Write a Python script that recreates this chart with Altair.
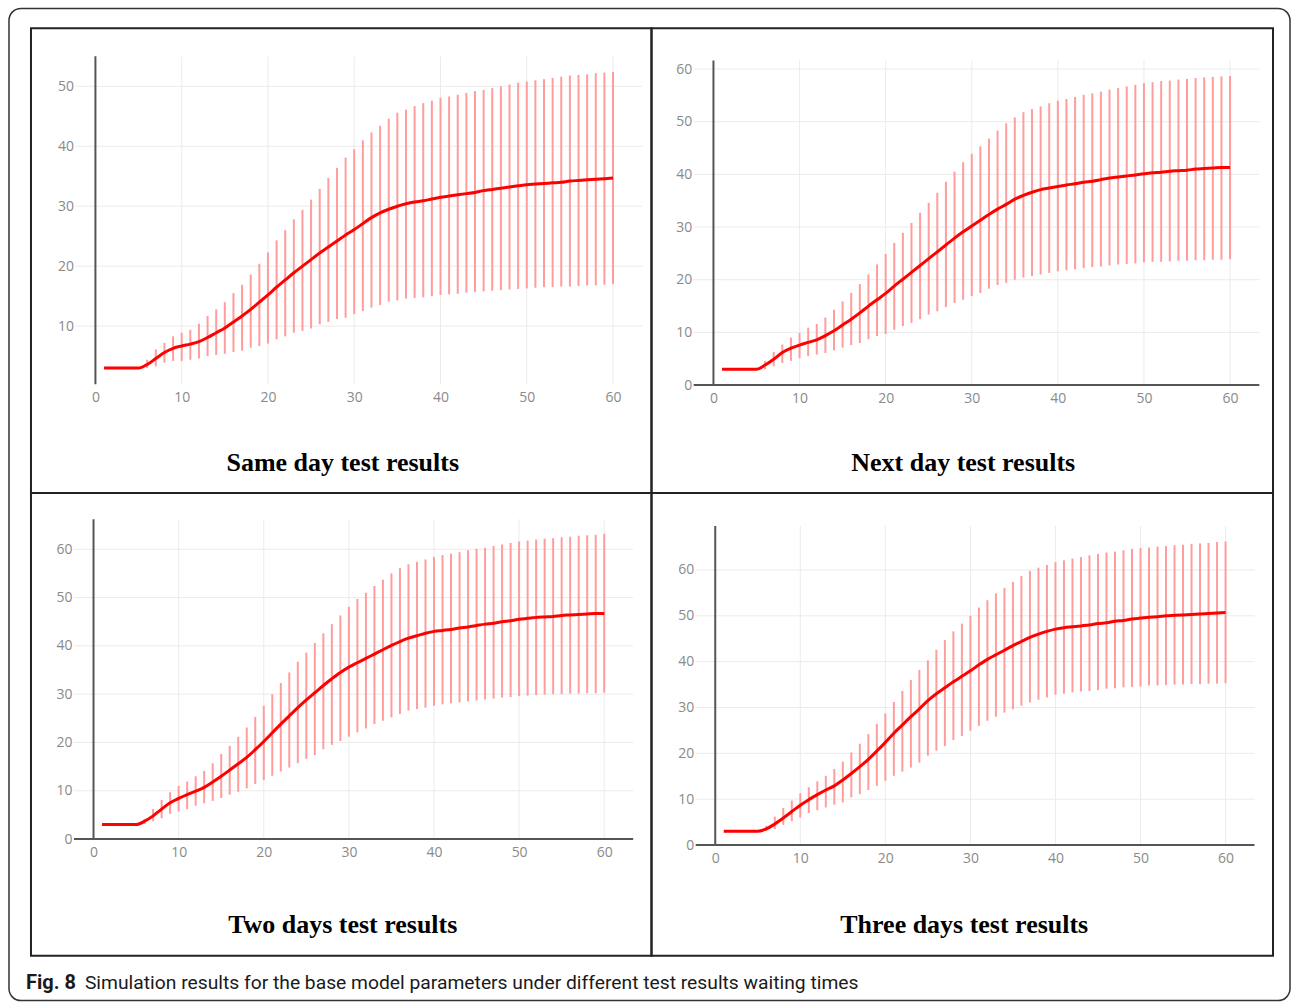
import altair as alt
import pandas as pd

# ---------------- data ----------------
DAYS = list(range(1, 61))
BAR_DAYS = list(range(6, 61))
X_TICKS = [0, 10, 20, 30, 40, 50, 60]
Y_TICKS_SAME = [10, 20, 30, 40, 50]
Y_TICKS_OTHER = [0, 10, 20, 30, 40, 50, 60]

PANEL_TITLES = ["Same day test results", "Next day test results",
                "Two days test results", "Three days test results"]
CAPTION_BOLD = "Fig. 8"
CAPTION_TEXT = "Simulation results for the base model parameters under different test results waiting times"

SAME_MEAN = [3.0, 3.0, 3.0, 3.0, 3.0, 3.6, 4.6, 5.6, 6.3, 6.7, 7.0, 7.4, 8.1, 8.9, 9.7,
             10.7, 11.7, 12.8, 14.0, 15.2, 16.5, 17.7, 18.9, 20.0, 21.1, 22.2, 23.2, 24.2, 25.2, 26.1,
             27.1, 28.1, 28.9, 29.5, 30.0, 30.4, 30.7, 30.9, 31.2, 31.5, 31.7, 31.9, 32.1, 32.3, 32.6,
             32.8, 33.0, 33.2, 33.4, 33.6, 33.7, 33.8, 33.9, 34.0, 34.2, 34.3, 34.4, 34.5, 34.6, 34.7]
SAME_HIGH = [4.4, 6.1, 7.2, 8.3, 8.9, 9.4, 10.4, 11.7, 12.8, 14.0, 15.5, 16.9, 18.6, 20.4, 22.3,
             24.3, 26.0, 27.8, 29.4, 31.1, 32.9, 34.7, 36.4, 38.1, 39.5, 41.0, 42.3, 43.4, 44.6, 45.6,
             46.1, 46.7, 47.2, 47.6, 48.1, 48.3, 48.6, 48.9, 49.2, 49.4, 49.7, 50.0, 50.3, 50.6, 50.8,
             51.0, 51.2, 51.4, 51.6, 51.8, 51.9, 52.0, 52.2, 52.3, 52.4]
SAME_LOW = [3.0, 3.3, 3.9, 4.2, 4.2, 4.4, 4.6, 5.0, 5.2, 5.4, 5.7, 5.9, 6.4, 6.7, 7.1,
            7.8, 8.3, 8.9, 9.2, 9.6, 10.3, 10.7, 11.2, 11.4, 12.0, 12.5, 13.1, 13.5, 14.1, 14.3,
            14.6, 14.7, 14.8, 15.0, 15.2, 15.3, 15.4, 15.6, 15.7, 15.8, 15.9, 16.0, 16.1, 16.2, 16.3,
            16.4, 16.5, 16.5, 16.6, 16.6, 16.7, 16.8, 16.8, 16.9, 17.0]

NEXT_MEAN = [3.0, 3.0, 3.0, 3.0, 3.0, 3.8, 4.9, 6.2, 7.0, 7.6, 8.1, 8.6, 9.4, 10.3, 11.4,
             12.5, 13.7, 15.0, 16.2, 17.4, 18.8, 20.1, 21.4, 22.7, 24.0, 25.3, 26.6, 27.9, 29.1, 30.2,
             31.3, 32.4, 33.4, 34.3, 35.3, 36.0, 36.6, 37.1, 37.4, 37.7, 38.0, 38.2, 38.5, 38.7, 39.0,
             39.3, 39.5, 39.7, 39.9, 40.1, 40.3, 40.4, 40.6, 40.7, 40.8, 41.0, 41.1, 41.2, 41.3, 41.3]
NEXT_HIGH = [4.6, 6.3, 7.7, 9.0, 9.9, 10.9, 11.6, 12.8, 14.3, 15.9, 17.5, 19.2, 21.0, 22.9, 24.9,
             27.0, 28.9, 30.8, 32.7, 34.6, 36.5, 38.6, 40.5, 42.3, 43.9, 45.3, 46.8, 48.3, 49.7, 50.8,
             51.8, 52.4, 52.9, 53.5, 54.0, 54.3, 54.7, 55.1, 55.4, 55.7, 56.1, 56.4, 56.7, 57.0, 57.3,
             57.5, 57.7, 57.8, 58.0, 58.1, 58.3, 58.4, 58.5, 58.6, 58.7]
NEXT_LOW = [3.0, 3.6, 4.2, 4.6, 5.1, 5.5, 5.8, 6.1, 6.6, 7.1, 7.6, 8.0, 8.7, 9.3, 9.7,
            10.5, 11.2, 11.8, 12.5, 13.4, 14.0, 14.8, 15.6, 16.2, 16.9, 17.5, 18.3, 19.0, 19.4, 20.0,
            20.4, 20.7, 21.0, 21.3, 21.6, 21.8, 22.0, 22.2, 22.4, 22.5, 22.7, 22.9, 23.0, 23.1, 23.3,
            23.4, 23.4, 23.5, 23.6, 23.6, 23.7, 23.7, 23.8, 23.8, 23.9]

TWO_MEAN = [3.0, 3.0, 3.0, 3.0, 3.0, 3.7, 4.8, 6.2, 7.5, 8.4, 9.2, 9.9, 10.7, 11.8, 13.0,
            14.3, 15.6, 16.9, 18.5, 20.2, 22.0, 23.8, 25.5, 27.2, 28.8, 30.3, 31.8, 33.2, 34.5, 35.6,
            36.5, 37.4, 38.3, 39.2, 40.1, 40.9, 41.6, 42.1, 42.6, 43.0, 43.2, 43.4, 43.7, 43.9, 44.2,
            44.5, 44.7, 45.0, 45.2, 45.5, 45.7, 45.9, 46.0, 46.1, 46.3, 46.4, 46.5, 46.6, 46.7, 46.7]
TWO_HIGH = [4.1, 6.2, 8.1, 9.7, 11.0, 11.9, 13.0, 14.1, 15.7, 17.6, 19.3, 21.2, 23.1, 25.3, 27.6,
            30.0, 32.3, 34.5, 36.7, 38.6, 40.6, 42.6, 44.5, 46.3, 48.1, 49.7, 51.0, 52.4, 53.7, 55.0,
            56.1, 56.9, 57.4, 57.9, 58.4, 58.8, 59.1, 59.4, 59.8, 60.1, 60.3, 60.7, 61.0, 61.3, 61.6,
            61.8, 62.0, 62.2, 62.3, 62.5, 62.6, 62.8, 62.9, 63.0, 63.2]
TWO_LOW = [3.1, 3.7, 4.3, 5.2, 5.7, 6.2, 6.9, 7.4, 7.9, 8.5, 9.2, 9.8, 10.5, 11.4, 12.2,
           13.1, 14.0, 14.8, 15.7, 16.6, 17.4, 18.6, 19.5, 20.3, 21.2, 22.1, 22.9, 23.8, 24.5, 25.2,
           25.9, 26.6, 26.9, 27.2, 27.6, 27.9, 28.1, 28.3, 28.5, 28.7, 28.9, 29.1, 29.3, 29.4, 29.6,
           29.7, 29.8, 29.9, 30.0, 30.0, 30.1, 30.1, 30.2, 30.2, 30.3]

THREE_MEAN = [3.0, 3.0, 3.0, 3.0, 3.0, 3.5, 4.6, 5.9, 7.3, 8.7, 9.9, 11.0, 12.0, 12.9, 14.2,
              15.6, 17.1, 18.7, 20.5, 22.4, 24.4, 26.2, 28.0, 29.7, 31.5, 33.0, 34.3, 35.6, 36.8, 38.0,
              39.3, 40.5, 41.5, 42.5, 43.5, 44.4, 45.3, 46.0, 46.6, 47.1, 47.4, 47.6, 47.8, 48.0, 48.3,
              48.5, 48.8, 49.0, 49.3, 49.5, 49.7, 49.8, 50.0, 50.1, 50.2, 50.3, 50.4, 50.5, 50.6, 50.7]
THREE_HIGH = [4.2, 6.2, 8.1, 9.7, 11.3, 12.6, 13.9, 15.1, 16.6, 18.2, 20.2, 22.1, 24.2, 26.4, 28.7,
              31.2, 33.6, 36.0, 38.2, 40.3, 42.6, 44.7, 46.6, 48.3, 50.0, 51.8, 53.4, 54.9, 56.1, 57.4,
              58.7, 59.8, 60.5, 61.1, 61.7, 62.1, 62.5, 62.8, 63.2, 63.5, 63.8, 64.0, 64.3, 64.6, 64.8,
              64.9, 65.1, 65.2, 65.4, 65.5, 65.7, 65.8, 65.9, 66.1, 66.2]
THREE_LOW = [3.1, 3.5, 4.4, 5.2, 6.0, 7.0, 7.6, 8.2, 8.8, 9.3, 10.4, 11.1, 12.0, 12.9, 14.0,
             15.1, 16.0, 16.9, 18.0, 19.5, 20.6, 21.6, 22.9, 23.8, 24.9, 26.0, 27.1, 28.0, 28.9, 29.6,
             30.4, 31.1, 31.7, 32.2, 32.8, 33.0, 33.3, 33.5, 33.6, 33.8, 34.1, 34.2, 34.4, 34.5, 34.6,
             34.8, 34.8, 34.9, 35.0, 35.0, 35.1, 35.1, 35.2, 35.2, 35.3]

SERIES = [(SAME_MEAN, SAME_LOW, SAME_HIGH, Y_TICKS_SAME),
          (NEXT_MEAN, NEXT_LOW, NEXT_HIGH, Y_TICKS_OTHER),
          (TWO_MEAN, TWO_LOW, TWO_HIGH, Y_TICKS_OTHER),
          (THREE_MEAN, THREE_LOW, THREE_HIGH, Y_TICKS_OTHER)]

# axis domains of each panel
X_DOMAINS = [(-2.3, 63.4), (-2.3, 63.4), (-2.3, 63.4), (-2.3, 63.4)]
Y_DOMAINS = [(0.3, 55.0), (0.0, 61.6), (0.0, 66.2), (0.0, 69.6)]

# ---------------- layout (pixels, page coordinates) ----------------
FRAMES = [(30, 27, 621, 465), (651, 27, 622, 465), (30, 492, 621, 463), (651, 492, 622, 463)]
X_PIX = [(94.5, 612.5), (713.0, 1230.0), (92.6, 603.7), (714.8, 1225.5)]  # pixel of x=0 and x=60
Y_PIX = [(385.0, 6.0), (384.0, 5.272), (838.3, 4.833), (844.3, 4.588)]    # pixel of y=0, px per unit
TITLE_POS = [(312, 443), (312, 443), (312, 440), (313, 440)]

LABEL_FONT = "Open Sans"
LABEL_COLOR = "#8a8a8a"
GRID_COLOR = "#ebebeb"
AXIS_COLOR = "#555555"
BAR_COLOR = "#ff9c9c"
LINE_COLOR = "#ff0000"

one_row = pd.DataFrame({"k": [0]})


def make_panel(i):
    mean, low, high, yticks = SERIES[i]
    fx, fy, W, H = FRAMES[i]
    x0a, x60a = X_PIX[i]
    kx = (x60a - x0a) / 60.0
    y0a, ky = Y_PIX[i]
    xa, xb = X_DOMAINS[i]
    ya, yb = Y_DOMAINS[i]

    def px(d):
        return x0a - fx + d * kx

    def py(d):
        return y0a - fy - d * ky

    xs = alt.Scale(domain=[xa, xb], range=[px(xa), px(xb)], nice=False, zero=False)
    ys = alt.Scale(domain=[ya, yb], range=[py(ya), py(yb)], nice=False, zero=False)

    x_axis = alt.Axis(values=X_TICKS, title=None, grid=False, domain=False, ticks=False,
                      tickSize=0, labelPadding=6, labelFlush=False, labelOverlap=False,
                      offset=py(ya) - H, labelFont=LABEL_FONT, labelFontSize=14,
                      labelColor=LABEL_COLOR)
    y_axis = alt.Axis(values=yticks, title=None, grid=False, domain=False, ticks=False,
                      tickSize=0, labelPadding=2, labelOverlap=False, offset=-px(xa),
                      labelFont=LABEL_FONT, labelFontSize=14, labelColor=LABEL_COLOR)

    def X(field):
        return alt.X(field, scale=xs, axis=x_axis)

    def Y(field):
        return alt.Y(field, scale=ys, axis=y_axis)

    frame = alt.Chart(one_row).mark_rect(fillOpacity=0, stroke="#222222", strokeWidth=2).encode(
        x=alt.value(0), x2=alt.value(W), y=alt.value(0), y2=alt.value(H))

    vgrid_df = pd.DataFrame({"t": X_TICKS[1:], "lo": ya, "hi": yb})
    vgrid = alt.Chart(vgrid_df).mark_rule(color=GRID_COLOR, strokeWidth=1).encode(
        x=X("t:Q"), y=Y("lo:Q"), y2="hi:Q")

    hgrid_df = pd.DataFrame({"v": [t for t in yticks if t > 0], "a": xa, "b": xb})
    hgrid = alt.Chart(hgrid_df).mark_rule(color=GRID_COLOR, strokeWidth=1).encode(
        y=Y("v:Q"), x=X("a:Q"), x2="b:Q")

    vzero = alt.Chart(pd.DataFrame({"t": [0], "lo": [ya], "hi": [yb]})).mark_rule(
        color=AXIS_COLOR, strokeWidth=2).encode(
        x=X("t:Q"), y=Y("lo:Q"), y2="hi:Q")

    layers = [frame, vgrid, hgrid, vzero]

    if ya == 0:
        hzero = alt.Chart(pd.DataFrame({"v": [0], "a": [xa], "b": [xb]})).mark_rule(
            color=AXIS_COLOR, strokeWidth=2).encode(
            y=Y("v:Q"), x=X("a:Q"), x2="b:Q")
        layers.append(hzero)

    bars = alt.Chart(pd.DataFrame({"day": BAR_DAYS, "low": low, "high": high})).mark_rule(
        color=BAR_COLOR, strokeWidth=2).encode(
        x=X("day:Q"), y=Y("low:Q"), y2="high:Q")

    line = alt.Chart(pd.DataFrame({"day": DAYS, "mean": mean})).mark_line(
        color=LINE_COLOR, strokeWidth=3, interpolate="monotone").encode(
        x=X("day:Q"), y=Y("mean:Q"))

    tx, ty = TITLE_POS[i]
    title = alt.Chart(pd.DataFrame({"title": [PANEL_TITLES[i]]})).mark_text(
        font="Liberation Serif", fontWeight="bold", fontSize=26, color="#000000",
        align="center", baseline="alphabetic").encode(
        x=alt.value(tx), y=alt.value(ty), text="title:N")

    layers += [bars, line, title]

    if i == 0:
        # rounded outer border of the figure
        outer = alt.Chart(one_row).mark_rect(fillOpacity=0, stroke="#333333", strokeWidth=1.5,
                                             cornerRadius=12).encode(
            x=alt.value(8 - fx), x2=alt.value(1290 - fx),
            y=alt.value(7 - fy), y2=alt.value(1000 - fy))
        layers.insert(0, outer)
    if i == 2:
        cap_df = pd.DataFrame({"bold": [CAPTION_BOLD], "rest": [CAPTION_TEXT]})
        cap1 = alt.Chart(cap_df).mark_text(font="Roboto", fontWeight="bold", fontSize=20,
                                           color="#1a1a1a", align="left",
                                           baseline="alphabetic").encode(
            x=alt.value(25 - fx), y=alt.value(988 - fy), text="bold:N")
        cap2 = alt.Chart(cap_df).mark_text(font="Roboto", fontSize=19.3, color="#1a1a1a",
                                           align="left", baseline="alphabetic").encode(
            x=alt.value(84 - fx), y=alt.value(988 - fy), text="rest:N")
        layers += [cap1, cap2]

    return alt.layer(*layers).properties(width=W, height=H)


panels = [make_panel(i) for i in range(4)]

chart = alt.concat(*panels, columns=2, spacing=0, bounds="flush").properties(
    padding={"left": 7, "top": 6, "right": 0, "bottom": 0},
    background="white",
).configure_view(stroke="transparent")

chart.save("out.html", embed_options={"renderer": "svg", "actions": False})
